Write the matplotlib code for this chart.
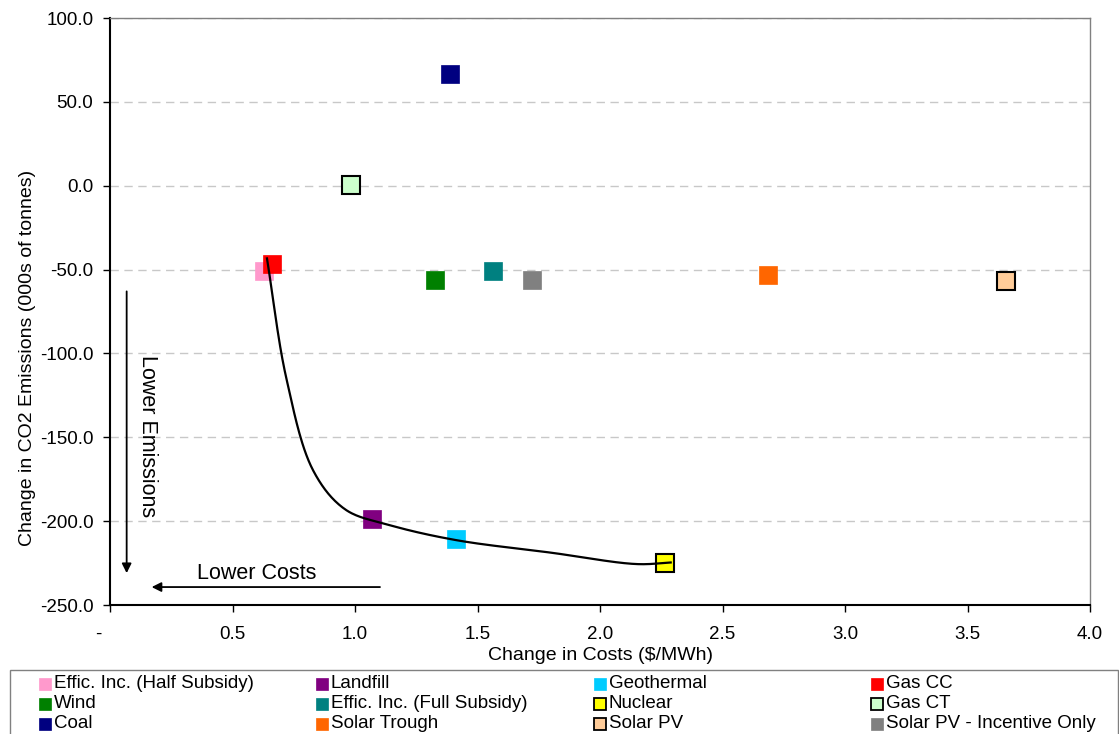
import matplotlib
matplotlib.use('Agg')
import matplotlib.pyplot as plt
import numpy as np
from matplotlib.lines import Line2D
from matplotlib.patches import Rectangle

plt.rcParams['font.family'] = ['Liberation Sans', 'DejaVu Sans']
plt.rcParams['axes.unicode_minus'] = False

# ---------------- data ----------------
names = ["Effic. Inc. (Half Subsidy)", "Landfill", "Geothermal", "Gas CC",
         "Wind", "Effic. Inc. (Full Subsidy)", "Nuclear", "Gas CT",
         "Coal", "Solar Trough", "Solar PV", "Solar PV - Incentive Only"]
cost = [0.629, 1.068, 1.412, 0.660,
        1.325, 1.565, 2.265, 0.984,
        1.387, 2.686, 3.657, 1.722]
emissions = [-50.6, -198.6, -210.5, -46.6,
             -56.0, -50.7, -225.1, 0.3,
             66.5, -53.2, -57.0, -56.4]
colors = ["#FF99CC", "#800080", "#00CCFF", "#FF0000",
          "#008000", "#008080", "#FFFF00", "#CCFFCC",
          "#000080", "#FF6600", "#FFCC99", "#808080"]
black_edge = [False, False, False, False,
              False, False, True, True,
              False, False, True, False]

# efficient frontier curve
frontier_cost = [0.640, 0.720, 0.830, 0.960, 1.140, 1.412, 1.800, 2.150, 2.293]
frontier_emis = [-42.7, -115.0, -170.0, -193.0, -202.3, -211.3, -218.8, -225.6, -224.6]

xticks = [0.0, 0.5, 1.0, 1.5, 2.0, 2.5, 3.0, 3.5, 4.0]
xticklabels = ["-    ", "0.5", "1.0", "1.5", "2.0", "2.5", "3.0", "3.5", "4.0"]
yticks = [100, 50, 0, -50, -100, -150, -200, -250]

# ---------------- figure ----------------
W, H = 1119, 734
fig = plt.figure(figsize=(W / 100, H / 100), dpi=100)
ax = fig.add_axes([110 / W, 1 - 605 / H, 980 / W, 587 / H])
ax.set_xlim(0, 4.0)
ax.set_ylim(-250, 100)

ax.set_yticks(yticks)
ax.set_yticklabels(["%.1f" % v for v in yticks])
ax.set_xticks(xticks)
ax.set_xticklabels(xticklabels)
ax.yaxis.grid(True, color="#C8C8C8", linestyle=(0, (6, 4)), lw=1.0)
ax.set_axisbelow(True)

for s in ["left", "bottom"]:
    ax.spines[s].set_color("black")
    ax.spines[s].set_linewidth(1.5)
for s in ["top", "right"]:
    ax.spines[s].set_color("#808080")
    ax.spines[s].set_linewidth(1.0)

ax.tick_params(axis="both", direction="out", length=5, width=1, labelsize=13.5)
ax.tick_params(axis="y", pad=7)
ax.tick_params(axis="x", pad=10)

# markers
for n, x, y, c, be in zip(names, cost, emissions, colors, black_edge):
    if be:
        ax.plot(x, y, "s", ms=12.5, mfc=c, mec="black", mew=1.5, zorder=3)
    else:
        ax.plot(x, y, "s", ms=13, mfc=c, mec=c, mew=0.5, zorder=3)

# smooth frontier curve (centripetal Catmull-Rom in pixel-like space)
sx, sy = 245.0, 1.6771
P = np.column_stack([np.array(frontier_cost) * sx, np.array(frontier_emis) * sy])
P = np.vstack([2 * P[0] - P[1], P, 2 * P[-1] - P[-2]])


def cr_segment(p0, p1, p2, p3, n=30):
    a = 0.5

    def tj(ti, pi, pj):
        return ti + np.linalg.norm(pj - pi) ** a

    t0 = 0.0
    t1 = tj(t0, p0, p1)
    t2 = tj(t1, p1, p2)
    t3 = tj(t2, p2, p3)
    t = np.linspace(t1, t2, n)[:, None]
    A1 = (t1 - t) / (t1 - t0) * p0 + (t - t0) / (t1 - t0) * p1
    A2 = (t2 - t) / (t2 - t1) * p1 + (t - t1) / (t2 - t1) * p2
    A3 = (t3 - t) / (t3 - t2) * p2 + (t - t2) / (t3 - t2) * p3
    B1 = (t2 - t) / (t2 - t0) * A1 + (t - t0) / (t2 - t0) * A2
    B2 = (t3 - t) / (t3 - t1) * A2 + (t - t1) / (t3 - t1) * A3
    return (t2 - t) / (t2 - t1) * B1 + (t - t1) / (t2 - t1) * B2


segs = [cr_segment(P[i], P[i + 1], P[i + 2], P[i + 3]) for i in range(len(P) - 3)]
curve = np.vstack(segs)
ax.plot(curve[:, 0] / sx, curve[:, 1] / sy, color="black", lw=1.6, zorder=4,
        solid_capstyle="butt")

# annotations
arrow_kw = dict(arrowstyle="-|>", color="black", lw=1.3, mutation_scale=14,
                shrinkA=0, shrinkB=0)
ax.annotate("", xy=(0.068, -231), xytext=(0.068, -63), arrowprops=arrow_kw)
ax.annotate("", xy=(0.170, -239.3), xytext=(1.102, -239.3), arrowprops=arrow_kw)
ax.text(0.155, -149.0, "Lower Emissions", rotation=-90, ha="center", va="center",
        fontsize=15.5)
ax.text(0.599, -231.0, "Lower Costs", ha="center", va="center", fontsize=15.5)

ax.set_xlabel("Change in Costs ($/MWh)", fontsize=14, labelpad=3)
ax.set_ylabel("Change in CO2 Emissions (000s of tonnes)", fontsize=14)
ax.yaxis.set_label_coords(-0.076, (605 - 358) / 587)

# legend box (drawn in figure pixels)
def px(x, y):
    return (x / W, 1 - y / H)

fig.patches.append(Rectangle(px(10, 780), 1108 / W, 110 / H, transform=fig.transFigure,
                             fill=False, edgecolor="#808080", lw=1.0))
col_x = [45, 322, 600, 877]
row_y = [684, 704, 724]
for i, (n, c, be) in enumerate(zip(names, colors, black_edge)):
    r, k = divmod(i, 4)
    mx, my = px(col_x[k], row_y[r])
    fig.add_artist(Line2D([mx], [my], marker="s", ms=8.5, mfc=c,
                          mec="black" if be else c, mew=1.3 if be else 0.5,
                          transform=fig.transFigure))
    tx, ty = px(col_x[k] + 9, row_y[r])
    fig.text(tx, ty, n, fontsize=13.5, ha="left", va="center")

fig.savefig("out.png", dpi=100)
